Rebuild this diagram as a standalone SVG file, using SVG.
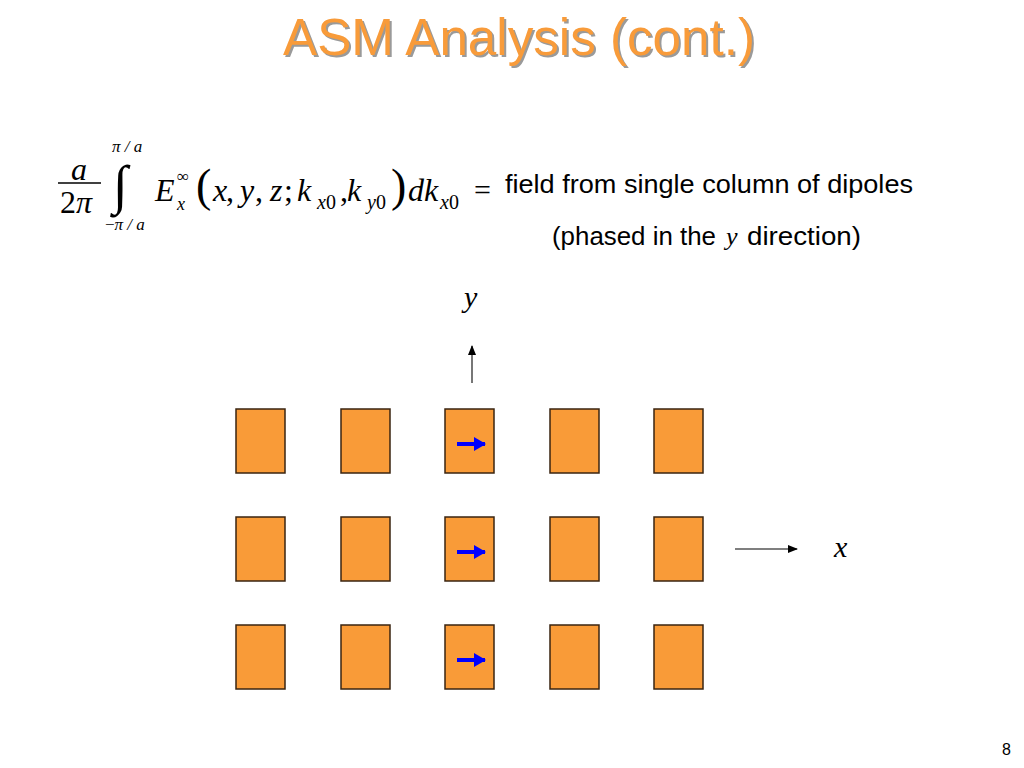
<svg xmlns="http://www.w3.org/2000/svg" width="1024" height="768" viewBox="0 0 1024 768">
<style>
.cell{fill:#F99B38;stroke:#3a2410;stroke-width:1.5}
.m{font-family:"Liberation Serif",serif;font-style:italic;fill:#000}
.r{font-family:"Liberation Serif",serif;font-style:normal;fill:#000}
.s{font-family:"Liberation Sans",Arial,sans-serif;fill:#000}
.ax{stroke:#555;stroke-width:1.6;fill:none}
.dip{stroke:#0000FF;stroke-width:4;fill:none}
</style>
<defs>
<marker id="ah" markerWidth="10" markerHeight="8" refX="9" refY="4" orient="auto" markerUnits="userSpaceOnUse">
<path d="M0,0 L10,4 L0,8 Z" fill="#000"/>
</marker>
<marker id="bh" markerWidth="12" markerHeight="14" refX="11" refY="7" orient="auto" markerUnits="userSpaceOnUse">
<path d="M0,0 L12,7 L0,14 Z" fill="#0000FF"/>
</marker>
</defs>
<rect width="1024" height="768" fill="#fff"/>
<g id="title">
<text x="285" y="57" font-family="Liberation Sans,Arial,sans-serif" font-size="52" fill="#9a9a9a" textLength="472" lengthAdjust="spacingAndGlyphs">ASM Analysis (cont.)</text>
<text x="283" y="55" font-family="Liberation Sans,Arial,sans-serif" font-size="52" fill="#F89B3A" textLength="472" lengthAdjust="spacingAndGlyphs">ASM Analysis (cont.)</text>
</g>
<g id="equation">
<text class="m" x="71" y="180" font-size="32">a</text>
<line x1="58" y1="183" x2="101" y2="183" stroke="#000" stroke-width="1.5"/>
<text class="r" x="60" y="213" font-size="32">2<tspan class="m">π</tspan></text>
<text class="r" x="113" y="203" font-size="54">∫</text>
<text class="m" x="112" y="152" font-size="17">π / a</text>
<text class="m" x="105" y="230" font-size="17"><tspan class="r">−</tspan>π / a</text>
<text class="m" x="155" y="201" font-size="32">E</text>
<text class="r" x="177" y="182" font-size="17">∞</text>
<text class="m" x="177" y="210" font-size="18">x</text>
<text class="r" x="196" y="201" font-size="46">(</text>
<text class="m" x="213" y="201" font-size="32">x</text>
<text class="r" x="226" y="201" font-size="32">,</text>
<text class="m" x="240" y="201" font-size="32">y</text>
<text class="r" x="255" y="201" font-size="32">,</text>
<text class="m" x="270" y="201" font-size="32">z</text>
<text class="r" x="284" y="201" font-size="32">;</text>
<text class="m" x="297" y="201" font-size="32">k</text>
<text class="m" x="317" y="209" font-size="20">x<tspan class="r">0</tspan></text>
<text class="r" x="340" y="201" font-size="32">,</text>
<text class="m" x="347" y="201" font-size="32">k</text>
<text class="m" x="367" y="209" font-size="20">y<tspan class="r">0</tspan></text>
<text class="r" x="391" y="201" font-size="46">)</text>
<text class="m" x="408" y="201" font-size="32">dk</text>
<text class="m" x="440" y="209" font-size="20">x<tspan class="r">0</tspan></text>
<text class="r" x="474" y="200" font-size="30">=</text>
<text class="s" x="505" y="193" font-size="26" textLength="408" lengthAdjust="spacingAndGlyphs">field from single column of dipoles</text>
<text class="s" x="552" y="245" font-size="26" textLength="164" lengthAdjust="spacingAndGlyphs">(phased in the</text>
<text class="m" x="726" y="245" font-size="26">y</text>
<text class="s" x="747" y="245" font-size="26" textLength="114" lengthAdjust="spacingAndGlyphs">direction)</text>
</g>
<g id="axes">
<text class="m" x="464" y="307" font-size="30">y</text>
<line class="ax" x1="472" y1="383" x2="472" y2="346" marker-end="url(#ah)"/>
<line class="ax" x1="735" y1="549" x2="797" y2="549" marker-end="url(#ah)"/>
<text class="m" x="834" y="557" font-size="30">x</text>
</g>
<g id="cells">
<g id="row1">
<rect class="cell" x="236" y="409" width="49" height="64"/>
<rect class="cell" x="341" y="409" width="49" height="64"/>
<rect class="cell" x="445" y="409" width="49" height="64"/>
<rect class="cell" x="550" y="409" width="49" height="64"/>
<rect class="cell" x="654" y="409" width="49" height="64"/>
</g>
<g id="row2">
<rect class="cell" x="236" y="517" width="49" height="64"/>
<rect class="cell" x="341" y="517" width="49" height="64"/>
<rect class="cell" x="445" y="517" width="49" height="64"/>
<rect class="cell" x="550" y="517" width="49" height="64"/>
<rect class="cell" x="654" y="517" width="49" height="64"/>
</g>
<g id="row3">
<rect class="cell" x="236" y="625" width="49" height="64"/>
<rect class="cell" x="341" y="625" width="49" height="64"/>
<rect class="cell" x="445" y="625" width="49" height="64"/>
<rect class="cell" x="550" y="625" width="49" height="64"/>
<rect class="cell" x="654" y="625" width="49" height="64"/>
</g>
</g>
<g id="dipoles">
<line class="dip" x1="457" y1="444" x2="485" y2="444" marker-end="url(#bh)"/>
<line class="dip" x1="457" y1="552" x2="485" y2="552" marker-end="url(#bh)"/>
<line class="dip" x1="457" y1="660" x2="485" y2="660" marker-end="url(#bh)"/>
</g>
<text class="s" x="1002" y="755" font-size="16">8</text>
</svg>
